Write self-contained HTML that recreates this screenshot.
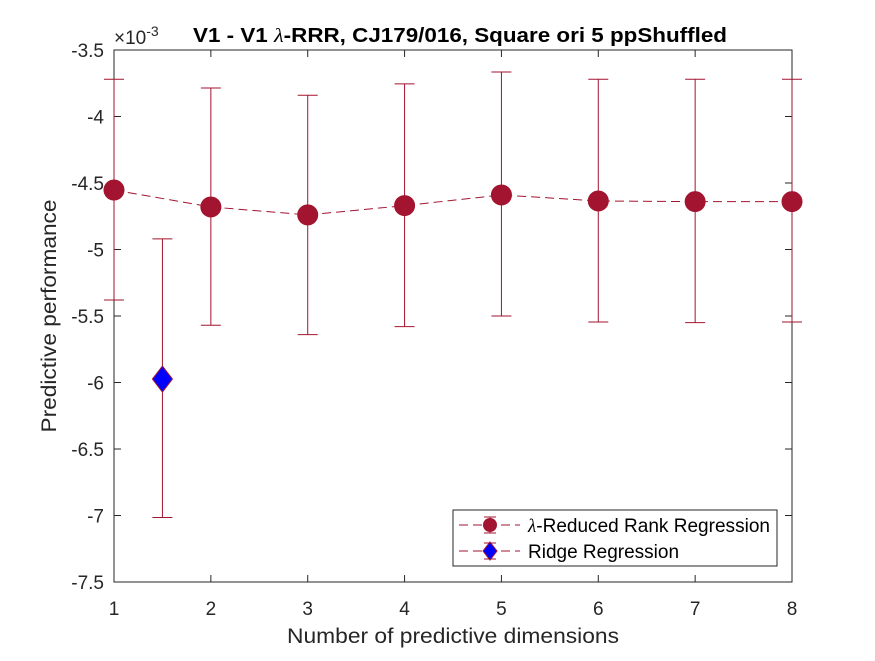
<!DOCTYPE html>
<html><head><meta charset="utf-8"><style>
body{margin:0;background:#fff}
svg text{font-family:"Liberation Sans",Arial,sans-serif}
</style></head><body>
<svg id="chart" width="875" height="656" xmlns="http://www.w3.org/2000/svg">
<rect width="875" height="656" fill="#fff"/>
<g id="plot"></g>
</svg>
<script>
const dims=[1,2,3,4,5,6,7,8];
const rrrMean=[-4.553,-4.68,-4.74,-4.67,-4.59,-4.635,-4.64,-4.64];
const rrrUpper=[-3.72,-3.786,-3.84,-3.755,-3.665,-3.72,-3.72,-3.72];
const rrrLower=[-5.38,-5.57,-5.64,-5.58,-5.50,-5.545,-5.55,-5.545];
const ridgeX=[1.5];
const ridgeMean=[-5.974];
const ridgeUpper=[-4.92];
const ridgeLower=[-7.015];
const xTicks=[1,2,3,4,5,6,7,8];
const yTicks=[-3.5,-4,-4.5,-5,-5.5,-6,-6.5,-7,-7.5];
const L=114,R=792,T=50,B=582;
const sx=v=>L+(v-1)/7*(R-L);
const sy=v=>T+(-3.5-v)/4*(B-T);
const ns="http://www.w3.org/2000/svg";
const g=document.getElementById('plot');
function mk(tag,attrs,parent){const e=document.createElementNS(ns,tag);for(const k in attrs)e.setAttribute(k,attrs[k]);(parent||g).appendChild(e);return e;}
const red="#A2142F";
let ax=mk('rect',{x:L,y:T,width:R-L,height:B-T,fill:'none',stroke:'#262626','stroke-width':1});


xTicks.forEach(v=>{const x=sx(v);
mk('line',{x1:x,y1:B,x2:x,y2:B-7,stroke:'#262626'});mk('line',{x1:x,y1:T,x2:x,y2:T+7,stroke:'#262626'});
const t=mk('text',{x:x,y:B+33,'font-size':19,'text-anchor':'middle',fill:'#262626'});t.textContent=v;

});
yTicks.forEach(v=>{const y=sy(v);
mk('line',{x1:L,y1:y,x2:L+7,y2:y,stroke:'#262626'});mk('line',{x1:R,y1:y,x2:R-7,y2:y,stroke:'#262626'});
const t=mk('text',{x:L-10,y:y+7,'font-size':19,'text-anchor':'end',fill:'#262626'});t.textContent=v;

});
const pl=mk('polyline',{points:dims.map((d,i)=>sx(d)+','+sy(rrrMean[i])).join(' '),fill:'none',stroke:red,'stroke-width':1,'stroke-dasharray':'9,5'});


function errbar(x,m,u,l,name){const X=sx(x);
const e=mk('g',{});
mk('line',{x1:X,y1:sy(u),x2:X,y2:sy(l),stroke:red},e);
mk('line',{x1:X-10,y1:sy(u),x2:X+10,y2:sy(u),stroke:red},e);
mk('line',{x1:X-10,y1:sy(l),x2:X+10,y2:sy(l),stroke:red},e);}
dims.forEach((d,i)=>errbar(d,rrrMean[i],rrrUpper[i],rrrLower[i],'rrr-errorbar'));
ridgeX.forEach((d,i)=>errbar(d,ridgeMean[i],ridgeUpper[i],ridgeLower[i],'ridge-errorbar'));
dims.forEach((d,i)=>{const c=mk('circle',{cx:sx(d),cy:sy(rrrMean[i]),r:10,fill:red,stroke:red});

});
ridgeX.forEach((d,i)=>{const X=sx(d),Y=sy(ridgeMean[i]);
const p=mk('polygon',{points:`${X},${Y-13} ${X+10},${Y} ${X},${Y+13} ${X-10},${Y}`,fill:'#0000ff',stroke:red});

});
</script>
<svg width="875" height="656" style="position:absolute;left:0;top:0" xmlns="http://www.w3.org/2000/svg">
<text x="114" y="44" font-size="19" fill="#262626">×10<tspan dy="-8" font-size="14">-3</tspan></text>
<text x="193" y="42" font-size="20" font-weight="bold" fill="#000" textLength="534" lengthAdjust="spacingAndGlyphs">V1 - V1 <tspan font-style="italic" font-weight="normal" font-family="Liberation Serif">λ</tspan>-RRR, CJ179/016, Square ori 5 ppShuffled</text>
<text x="453" y="643" font-size="21" text-anchor="middle" fill="#262626" textLength="332" lengthAdjust="spacingAndGlyphs">Number of predictive dimensions</text>
<text x="56" y="316" font-size="21" text-anchor="middle" fill="#262626" textLength="233" lengthAdjust="spacingAndGlyphs" transform="rotate(-90 56 316)">Predictive performance</text>
<g>
<rect x="453" y="510" width="324" height="56" fill="#fff" stroke="#262626"/>
<g>
<line x1="459" y1="525" x2="520" y2="525" stroke="#A2142F" stroke-dasharray="9,5"/>
<line x1="490" y1="517" x2="490" y2="533" stroke="#A2142F"/><line x1="484" y1="517" x2="496" y2="517" stroke="#A2142F"/><line x1="484" y1="533" x2="496" y2="533" stroke="#A2142F"/>
<circle cx="490" cy="525" r="7" fill="#A2142F"/>
<text x="528" y="532" font-size="19" fill="#000" textLength="242" lengthAdjust="spacingAndGlyphs"><tspan font-family="Liberation Serif" font-style="italic">λ</tspan>-Reduced Rank Regression</text></g>
<g>
<line x1="459" y1="551" x2="520" y2="551" stroke="#A2142F" stroke-dasharray="9,5"/>
<line x1="490" y1="543" x2="490" y2="559" stroke="#A2142F"/><line x1="484" y1="543" x2="496" y2="543" stroke="#A2142F"/><line x1="484" y1="559" x2="496" y2="559" stroke="#A2142F"/>
<polygon points="490,542 497,551 490,560 483,551" fill="#0000ff" stroke="#A2142F"/>
<text x="528" y="558" font-size="19" fill="#000">Ridge Regression</text></g>
</g>
</svg>
</body></html>
